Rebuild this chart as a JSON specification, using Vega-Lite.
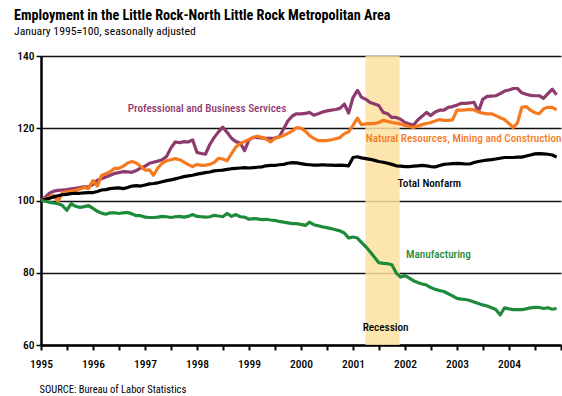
{
  "$schema": "https://vega.github.io/schema/vega-lite/v6.json",
  "width": 520,
  "height": 289,
  "autosize": {"type": "none"},
  "padding": {"left": 41, "top": 56, "right": 1, "bottom": 51},
  "background": "white",
  "title": {
    "text": "Employment in the Little Rock-North Little Rock Metropolitan Area",
    "subtitle": "January 1995=100, seasonally adjusted",
    "anchor": "start",
    "frame": "group",
    "dx": -27,
    "offset": 12,
    "font": "Roboto Condensed, DejaVu Sans Condensed, sans-serif",
    "fontSize": 14.2,
    "fontWeight": "bold",
    "color": "black",
    "subtitleFont": "Roboto Condensed, DejaVu Sans Condensed, sans-serif",
    "subtitleFontSize": 11.7,
    "subtitleColor": "black",
    "subtitlePadding": 3
  },
  "config": {
    "view": {"stroke": null},
    "axis": {
      "labelFont": "Roboto Condensed, DejaVu Sans Condensed, sans-serif",
      "labelFontSize": 11.5,
      "labelFontWeight": 500,
      "labelColor": "black",
      "domainColor": "black",
      "domainWidth": 2.5,
      "tickColor": "black",
      "tickWidth": 2,
      "tickSize": 5
    },
    "text": {"font": "Roboto Condensed, DejaVu Sans Condensed, sans-serif", "fontSize": 11.2, "fontWeight": 500, "align": "left", "baseline": "middle"}
  },
  "data": {"values": [
    {"d":"1995-01-01","t":100,"m":100,"p":100,"n":100},
    {"d":"1995-02-01","t":100.3,"m":99.8,"p":101,"n":100.5},
    {"d":"1995-03-01","t":100.6,"m":99.5,"p":102,"n":101},
    {"d":"1995-04-01","t":101,"m":99.3,"p":102.6,"n":101.4},
    {"d":"1995-05-01","t":101.3,"m":99.1,"p":102.8,"n":99.7},
    {"d":"1995-06-01","t":101.6,"m":98.6,"p":102.9,"n":102.2},
    {"d":"1995-07-01","t":101.7,"m":97.3,"p":103,"n":102.4},
    {"d":"1995-08-01","t":101.9,"m":99.1,"p":103.2,"n":102.6},
    {"d":"1995-09-01","t":102,"m":98.4,"p":103.4,"n":102.8},
    {"d":"1995-10-01","t":102,"m":98.1,"p":103.6,"n":103.2},
    {"d":"1995-11-01","t":102.1,"m":98.3,"p":103.8,"n":103.6},
    {"d":"1995-12-01","t":102.2,"m":98.6,"p":103.8,"n":103.3},
    {"d":"1996-01-01","t":102.2,"m":97.8,"p":104.5,"n":105.5},
    {"d":"1996-02-01","t":102.5,"m":97,"p":105.6,"n":104},
    {"d":"1996-03-01","t":102.9,"m":96.5,"p":106,"n":106.9},
    {"d":"1996-04-01","t":103,"m":96.2,"p":106.5,"n":107.4},
    {"d":"1996-05-01","t":103.3,"m":96.6,"p":107,"n":108},
    {"d":"1996-06-01","t":103.4,"m":96.6,"p":107.5,"n":108.9},
    {"d":"1996-07-01","t":103.5,"m":96.4,"p":107.7,"n":108.9},
    {"d":"1996-08-01","t":103.3,"m":96.6,"p":108,"n":109.5},
    {"d":"1996-09-01","t":103.6,"m":96.7,"p":107.9,"n":110.4},
    {"d":"1996-10-01","t":104,"m":96.3,"p":107.8,"n":110.8},
    {"d":"1996-11-01","t":104.1,"m":95.8,"p":108.3,"n":110.4},
    {"d":"1996-12-01","t":104,"m":95.8,"p":109,"n":109.5},
    {"d":"1997-01-01","t":104.3,"m":95.4,"p":109.5,"n":108.4},
    {"d":"1997-02-01","t":104.6,"m":95.3,"p":110.3,"n":108.5},
    {"d":"1997-03-01","t":104.7,"m":95.3,"p":110.6,"n":107},
    {"d":"1997-04-01","t":104.9,"m":95.4,"p":110.9,"n":109},
    {"d":"1997-05-01","t":105.2,"m":95.6,"p":111.3,"n":110.3},
    {"d":"1997-06-01","t":105.5,"m":95.5,"p":112.2,"n":111},
    {"d":"1997-07-01","t":105.7,"m":95.3,"p":114.5,"n":111.3},
    {"d":"1997-08-01","t":106,"m":95.5,"p":116.2,"n":111.6},
    {"d":"1997-09-01","t":106.3,"m":95.6,"p":116,"n":111.3},
    {"d":"1997-10-01","t":106.6,"m":95.4,"p":116.3,"n":110.6},
    {"d":"1997-11-01","t":106.8,"m":95.6,"p":116.2,"n":109.9},
    {"d":"1997-12-01","t":107,"m":96.1,"p":116.8,"n":109.4},
    {"d":"1998-01-01","t":107.3,"m":95.6,"p":113.3,"n":110},
    {"d":"1998-02-01","t":107.5,"m":95.5,"p":113,"n":109.7},
    {"d":"1998-03-01","t":107.7,"m":95.4,"p":112.8,"n":109.8},
    {"d":"1998-04-01","t":107.9,"m":95.5,"p":115.5,"n":110},
    {"d":"1998-05-01","t":108.2,"m":95.9,"p":117.4,"n":110.5},
    {"d":"1998-06-01","t":108.3,"m":95.7,"p":119,"n":111.7},
    {"d":"1998-07-01","t":108.4,"m":95.5,"p":120.3,"n":111.5},
    {"d":"1998-08-01","t":108.6,"m":96.4,"p":118.8,"n":111},
    {"d":"1998-09-01","t":108.8,"m":95.6,"p":117.2,"n":113},
    {"d":"1998-10-01","t":108.9,"m":96.1,"p":116.3,"n":114.8},
    {"d":"1998-11-01","t":109,"m":95.5,"p":115.9,"n":115.8},
    {"d":"1998-12-01","t":109.1,"m":95.4,"p":113.8,"n":116.3},
    {"d":"1999-01-01","t":109,"m":94.8,"p":116.8,"n":116.9},
    {"d":"1999-02-01","t":109.1,"m":95,"p":117.5,"n":117.5},
    {"d":"1999-03-01","t":109.2,"m":94.9,"p":117.4,"n":117.8},
    {"d":"1999-04-01","t":109.3,"m":94.7,"p":117.3,"n":117.5},
    {"d":"1999-05-01","t":109.6,"m":94.8,"p":117.2,"n":117},
    {"d":"1999-06-01","t":109.7,"m":94.6,"p":117.2,"n":116.2},
    {"d":"1999-07-01","t":109.7,"m":94.5,"p":117.3,"n":117.2},
    {"d":"1999-08-01","t":109.9,"m":94.2,"p":117.6,"n":117.6},
    {"d":"1999-09-01","t":110,"m":94,"p":119.8,"n":118},
    {"d":"1999-10-01","t":110.3,"m":93.8,"p":122,"n":118.6},
    {"d":"1999-11-01","t":110.5,"m":93.6,"p":123.4,"n":119.2},
    {"d":"1999-12-01","t":110.4,"m":93.6,"p":124,"n":120.2},
    {"d":"2000-01-01","t":110.2,"m":93.4,"p":124,"n":120},
    {"d":"2000-02-01","t":110,"m":93.1,"p":124.1,"n":119.2},
    {"d":"2000-03-01","t":109.9,"m":94,"p":124.4,"n":118},
    {"d":"2000-04-01","t":109.8,"m":93.3,"p":123.6,"n":117.2},
    {"d":"2000-05-01","t":109.8,"m":93,"p":124,"n":116.6},
    {"d":"2000-06-01","t":109.9,"m":92.7,"p":124.5,"n":116.6},
    {"d":"2000-07-01","t":109.8,"m":92.5,"p":124.8,"n":116.6},
    {"d":"2000-08-01","t":109.8,"m":92.2,"p":125,"n":116.8},
    {"d":"2000-09-01","t":109.7,"m":91.9,"p":125.2,"n":117.1},
    {"d":"2000-10-01","t":109.8,"m":91.6,"p":125.5,"n":117.4},
    {"d":"2000-11-01","t":109.7,"m":91,"p":126.7,"n":118.5},
    {"d":"2000-12-01","t":109.6,"m":89.6,"p":124.2,"n":119},
    {"d":"2001-01-01","t":111.9,"m":89.9,"p":128.5,"n":120.8},
    {"d":"2001-02-01","t":112.1,"m":89.6,"p":130.5,"n":122.8},
    {"d":"2001-03-01","t":111.8,"m":88.4,"p":128.6,"n":121},
    {"d":"2001-04-01","t":111.6,"m":87.2,"p":128,"n":121.2},
    {"d":"2001-05-01","t":111.4,"m":85.8,"p":127.1,"n":121.3},
    {"d":"2001-06-01","t":111.1,"m":84.3,"p":126.7,"n":121.3},
    {"d":"2001-07-01","t":110.8,"m":82.8,"p":126.3,"n":121.6},
    {"d":"2001-08-01","t":110.6,"m":82.6,"p":124.4,"n":122.2},
    {"d":"2001-09-01","t":110.3,"m":82.5,"p":124,"n":121.9},
    {"d":"2001-10-01","t":110,"m":82.2,"p":123,"n":121.6},
    {"d":"2001-11-01","t":109.6,"m":79.9,"p":123,"n":121.4},
    {"d":"2001-12-01","t":109.5,"m":78.8,"p":122.5,"n":121.2},
    {"d":"2002-01-01","t":109.4,"m":79.2,"p":121.6,"n":120.8},
    {"d":"2002-02-01","t":109.4,"m":78.5,"p":121.2,"n":120.5},
    {"d":"2002-03-01","t":109.5,"m":77.8,"p":120.8,"n":120.2},
    {"d":"2002-04-01","t":109.6,"m":77.3,"p":122.3,"n":120.6},
    {"d":"2002-05-01","t":109.7,"m":76.9,"p":123.3,"n":121},
    {"d":"2002-06-01","t":109.6,"m":76.6,"p":124.4,"n":121.3},
    {"d":"2002-07-01","t":109.4,"m":75.9,"p":123.5,"n":121.6},
    {"d":"2002-08-01","t":109.3,"m":75.4,"p":124.5,"n":122},
    {"d":"2002-09-01","t":109.7,"m":75.1,"p":125,"n":122.4},
    {"d":"2002-10-01","t":110,"m":74.8,"p":125,"n":122.2},
    {"d":"2002-11-01","t":110.1,"m":74.2,"p":125.8,"n":122.2},
    {"d":"2002-12-01","t":110.2,"m":73.6,"p":126,"n":122.3},
    {"d":"2003-01-01","t":110.3,"m":72.9,"p":126.4,"n":125},
    {"d":"2003-02-01","t":110.2,"m":72.7,"p":126.9,"n":125},
    {"d":"2003-03-01","t":110.1,"m":72.6,"p":126.9,"n":125.1},
    {"d":"2003-04-01","t":110.1,"m":72.3,"p":127,"n":125.2},
    {"d":"2003-05-01","t":110.5,"m":71.9,"p":127.2,"n":125.1},
    {"d":"2003-06-01","t":110.8,"m":71.5,"p":124.6,"n":124.5},
    {"d":"2003-07-01","t":111,"m":71.1,"p":128,"n":124.2},
    {"d":"2003-08-01","t":111.2,"m":70.8,"p":128.8,"n":124},
    {"d":"2003-09-01","t":111.3,"m":70.3,"p":128.9,"n":124},
    {"d":"2003-10-01","t":111.5,"m":69.8,"p":129,"n":123.5},
    {"d":"2003-11-01","t":111.7,"m":68.3,"p":129.6,"n":122.9},
    {"d":"2003-12-01","t":111.9,"m":70.3,"p":130.3,"n":122.4},
    {"d":"2004-01-01","t":111.9,"m":70,"p":130.6,"n":121.3},
    {"d":"2004-02-01","t":111.9,"m":69.8,"p":131,"n":120.2},
    {"d":"2004-03-01","t":112,"m":69.8,"p":131,"n":121.5},
    {"d":"2004-04-01","t":112,"m":69.8,"p":129.8,"n":125.8},
    {"d":"2004-05-01","t":112.3,"m":70,"p":129.4,"n":126},
    {"d":"2004-06-01","t":112.6,"m":70.3,"p":129.1,"n":125},
    {"d":"2004-07-01","t":112.9,"m":70.4,"p":129,"n":124.3},
    {"d":"2004-08-01","t":113,"m":70.4,"p":129,"n":124},
    {"d":"2004-09-01","t":112.9,"m":70.1,"p":128.3,"n":125.4},
    {"d":"2004-10-01","t":112.8,"m":70.3,"p":129.6,"n":125.8},
    {"d":"2004-11-01","t":112.6,"m":69.9,"p":130.8,"n":125.8},
    {"d":"2004-12-01","t":112,"m":70.1,"p":129.3,"n":125.1}
  ]},
  "layer": [
    {
      "data": {"values": [{}]},
      "mark": {"type": "rect", "color": "#FBE2A0", "opacity": 0.85},
      "encoding": {
        "x": {"datum": {"year": 2001, "month": 3, "date": 29, "utc": true}, "type": "temporal",
          "scale": {"type": "utc", "domain": [{"year": 1995, "month": 1, "date": 1, "utc": true}, {"year": 2005, "month": 1, "date": 1, "utc": true}]},
          "axis": {
            "tickCount": {"interval": "month", "step": 6},
            "labelExpr": "utcmonth(datum.value) == 0 && utcyear(datum.value) < 2005 ? utcFormat(datum.value, '%Y') : ''",
            "grid": false,
            "labelPadding": 8,
            "labelFlush": false,
            "labelOverlap": false,
            "title": "SOURCE: Bureau of Labor Statistics",
            "titleFont": "Roboto Condensed, DejaVu Sans Condensed, sans-serif",
            "titleFontSize": 10.5,
            "titleFontWeight": "normal",
            "titleColor": "black",
            "titleAnchor": "start",
            "titleAlign": "left",
            "titleX": -2,
            "titlePadding": 15
          }
        },
        "x2": {"datum": {"year": 2001, "month": 11, "date": 25, "utc": true}},
        "y": {"datum": 60, "type": "quantitative",
          "scale": {"domain": [60, 140], "nice": false, "zero": false},
          "axis": {
            "values": [60,70,80,90,100,110,120,130,140],
            "grid": true,
            "gridColor": "#111111",
            "gridWidth": 1.5,
            "gridOpacity": 1,
            "tickWidth": 1.5,
            "labelPadding": 2,
            "title": null
          }
        },
        "y2": {"datum": 140}
      }
    },
    {
      "mark": {"type": "line", "color": "#8E3A6D", "strokeWidth": 3.2, "strokeJoin": "round"},
      "encoding": {
        "x": {"field": "d", "type": "temporal"},
        "y": {"field": "p", "type": "quantitative"}
      }
    },
    {
      "mark": {"type": "line", "color": "#F57A1F", "strokeWidth": 3.2, "strokeJoin": "round"},
      "encoding": {
        "x": {"field": "d", "type": "temporal"},
        "y": {"field": "n", "type": "quantitative"}
      }
    },
    {
      "mark": {"type": "line", "color": "#000000", "strokeWidth": 3.2, "strokeJoin": "round"},
      "encoding": {
        "x": {"field": "d", "type": "temporal"},
        "y": {"field": "t", "type": "quantitative"}
      }
    },
    {
      "mark": {"type": "line", "color": "#1E8B3B", "strokeWidth": 3.2, "strokeJoin": "round"},
      "encoding": {
        "x": {"field": "d", "type": "temporal"},
        "y": {"field": "m", "type": "quantitative"}
      }
    },
    {
      "data": {"values": [{}]},
      "mark": {"type": "text", "text": "Professional and Business Services", "color": "#8E3A6D"},
      "encoding": {"x": {"datum": {"year": 1996, "month": 9, "date": 1, "utc": true}, "type": "temporal"}, "y": {"datum": 125.2, "type": "quantitative"}}
    },
    {
      "data": {"values": [{}]},
      "mark": {"type": "text", "text": "Natural Resources, Mining and Construction", "color": "#F57A1F"},
      "encoding": {"x": {"datum": {"year": 2001, "month": 4, "date": 1, "utc": true}, "type": "temporal"}, "y": {"datum": 117.0, "type": "quantitative"}}
    },
    {
      "data": {"values": [{}]},
      "mark": {"type": "text", "text": "Total Nonfarm", "color": "black"},
      "encoding": {"x": {"datum": {"year": 2001, "month": 11, "date": 11, "utc": true}, "type": "temporal"}, "y": {"datum": 104.7, "type": "quantitative"}}
    },
    {
      "data": {"values": [{}]},
      "mark": {"type": "text", "text": "Manufacturing", "color": "#1E8B3B"},
      "encoding": {"x": {"datum": {"year": 2002, "month": 1, "date": 8, "utc": true}, "type": "temporal"}, "y": {"datum": 84.8, "type": "quantitative"}}
    },
    {
      "data": {"values": [{}]},
      "mark": {"type": "text", "text": "Recession", "color": "black"},
      "encoding": {"x": {"datum": {"year": 2001, "month": 3, "date": 10, "utc": true}, "type": "temporal"}, "y": {"datum": 64.8, "type": "quantitative"}}
    }
  ]
}
